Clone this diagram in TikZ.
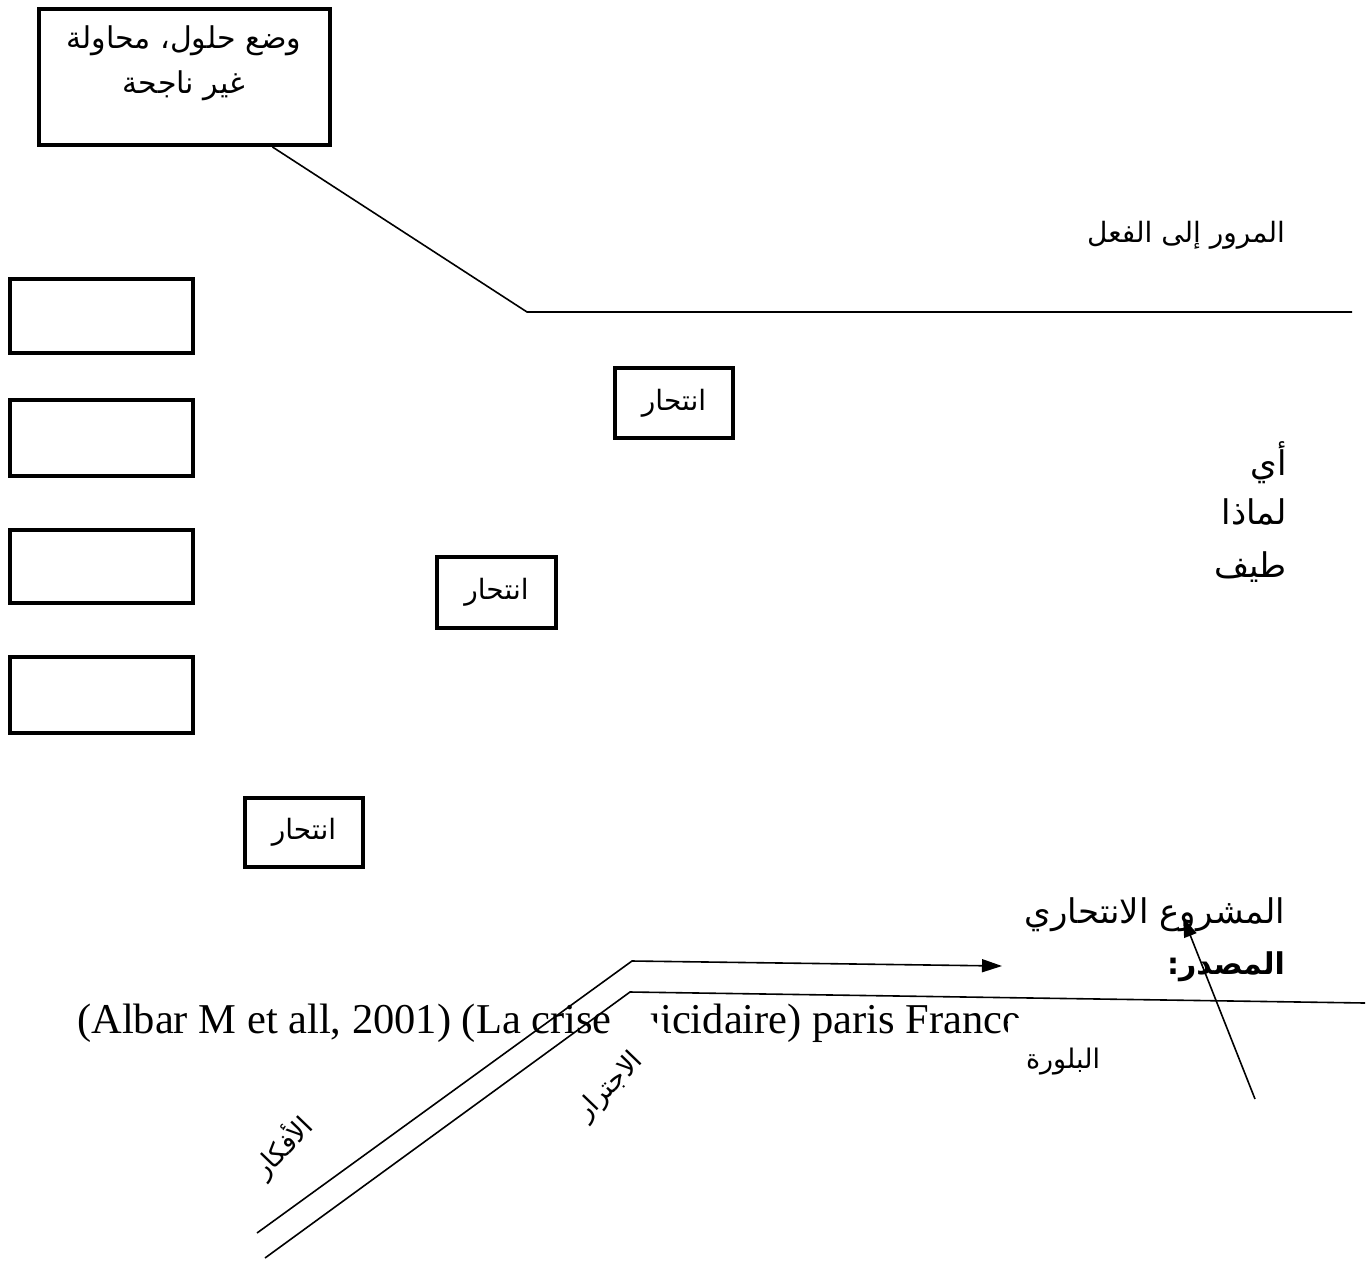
\documentclass[tikz,border=0pt]{standalone}
\usepackage{fontspec}
\setmainfont{Liberation Serif}
\newfontfamily\arabicfont[Script=Arabic]{DejaVu Sans}
\TeXXeTstate=1
\usetikzlibrary{arrows.meta}
\begin{document}
\begin{tikzpicture}[x=1pt,y=-1pt,
  thickbox/.style={draw,line width=4pt,inner sep=0pt},
  conn/.style={line width=1.6pt,line join=miter},
  arb/.style={inner sep=0pt},
  tipA/.style={-{Triangle[length=20pt,width=13pt]}}]
\useasboundingbox (0,0) rectangle (1372,1263);
\fill[white] (0,0) rectangle (1372,1263);

% top box
\node[thickbox, minimum width=291pt, minimum height=136pt] (topbox) at (184.5,77) {};
\node[arb, align=center, font=\arabicfont\fontsize{30}{45}\selectfont] (toptext) at (184,63)
  {\beginR وضع حلول، محاولة\endR\\\beginR غير ناجحة\endR};

\coordinate (bend1) at (527,312);
\coordinate (end1) at (1352,312);
\draw[conn] ([xshift=88pt]topbox.south) -- (bend1) -- (end1);

\node[arb, font=\arabicfont\fontsize{28}{32}\selectfont] (murur) at (1186,235) {\beginR المرور إلى الفعل\endR};

% left boxes
\node[thickbox, minimum width=183pt, minimum height=74pt] (lb1) at (101.5,316) {};
\node[thickbox, minimum width=183pt, minimum height=76pt] (lb2) at (101.5,438) {};
\node[thickbox, minimum width=183pt, minimum height=73pt] (lb3) at (101.5,566.5) {};
\node[thickbox, minimum width=183pt, minimum height=76pt] (lb4) at (101.5,695) {};

% suicide boxes
\node[thickbox, minimum width=118pt, minimum height=70pt, font=\arabicfont\fontsize{28}{32}\selectfont] (in1) at (674,403) {\beginR انتحار\endR};
\node[thickbox, minimum width=119pt, minimum height=71pt, font=\arabicfont\fontsize{28}{32}\selectfont] (in2) at (496.5,592.5) {\beginR انتحار\endR};
\node[thickbox, minimum width=118pt, minimum height=69pt, font=\arabicfont\fontsize{28}{32}\selectfont] (in3) at (304,832.5) {\beginR انتحار\endR};

% right list
\node[arb, anchor=east, font=\arabicfont\fontsize{34}{38}\selectfont] (ayy) at (1287,463) {\beginR أي\endR};
\node[arb, anchor=east, font=\arabicfont\fontsize{34}{38}\selectfont] (limatha) at (1287,512) {\beginR لماذا\endR};
\node[arb, anchor=east, font=\arabicfont\fontsize{34}{38}\selectfont] (tayf) at (1287,567) {\beginR طيف\endR};

\node[arb, anchor=east, font=\arabicfont\fontsize{34}{38}\selectfont] (mashru) at (1285,915) {\beginR المشروع الانتحاري\endR};
\node[arb, anchor=east, font=\arabicfont\bfseries\fontsize{30}{34}\selectfont] (masdar) at (1285,967) {\beginR المصدر:\endR};

% source line
\node[anchor=base west, inner sep=0pt, font=\fontsize{42.5}{50}\selectfont] (src) at (77,1033)
  {(Albar M et all, 2001) (La crise suicidaire) paris France};

% labels (white text boxes)
\node[arb, fill=white, minimum width=156pt, minimum height=80pt, rotate=46, font=\arabicfont\fontsize{27}{30}\selectfont] (ijtirar) at (610,1087) {\beginR الاجترار\endR};
\node[arb, rotate=46, font=\arabicfont\fontsize{27}{30}\selectfont] (afkar) at (283,1147) {\beginR الأفكار\endR};
\node[arb, fill=white, minimum width=110pt, minimum height=88pt, font=\arabicfont\fontsize{27}{30}\selectfont] (bilwara) at (1063,1062) {\beginR البلورة\endR};

% connectors
\coordinate (a1s) at (257,1233);
\coordinate (a1b) at (632,961);
\coordinate (a1e) at (1002,966);
\draw[conn, tipA] (a1s) -- (a1b) -- (a1e);
\coordinate (a2s) at (265,1258);
\coordinate (a2b) at (630,992);
\coordinate (a2e) at (1365,1003);
\draw[conn] (a2s) -- (a2b) -- (a2e);
\coordinate (a3s) at (1255,1099);
\coordinate (a3e) at (1183,917);
\draw[conn, tipA] (a3s) -- (a3e);
\end{tikzpicture}
\end{document}
